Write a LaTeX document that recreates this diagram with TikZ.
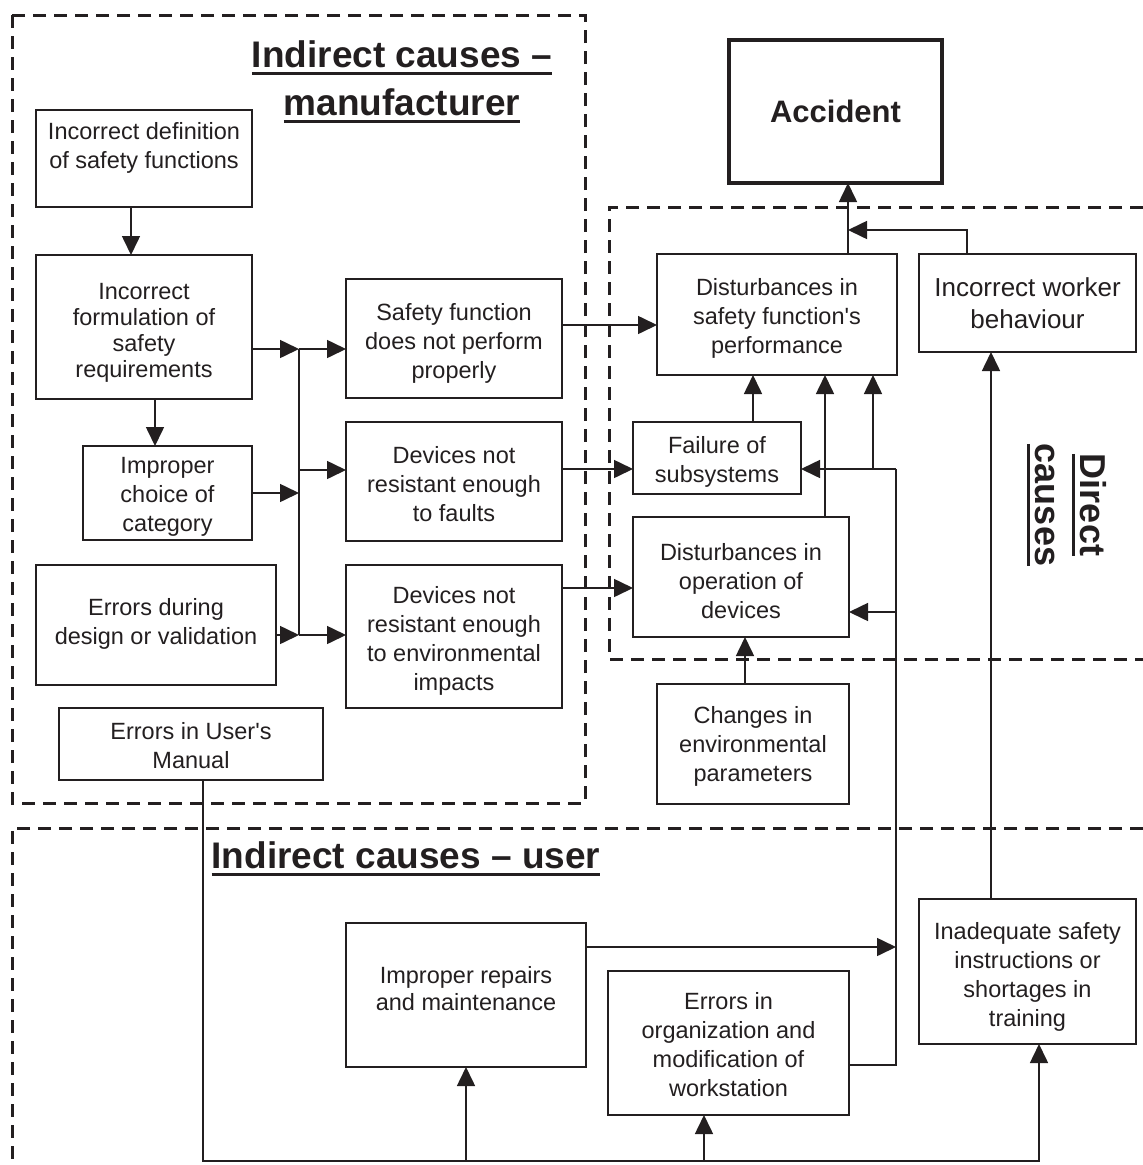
\documentclass[tikz,border=0pt]{standalone}
\usepackage{fontspec}
\setmainfont{Liberation Sans}
\usetikzlibrary{arrows.meta}
\definecolor{ink}{RGB}{35,31,32}
\newcommand{\thul}[1]{\setbox0\hbox{#1}\rlap{\rule[-8pt]{\wd0}{3pt}}\box0}
\newcommand{\bxst}{\rule[-6.5pt]{0pt}{29pt}}
\newcommand{\up}[1]{\rule{0pt}{#1}}
\newcommand{\dn}[1]{\rule[-#1]{0pt}{0pt}}
\tikzset{
  box/.style={draw=ink, line width=1.6pt, inner sep=0pt, outer sep=0pt, align=center,
    font=\fontsize{23.5}{29}\selectfont, text=ink},
  sbox/.style={box, execute at begin node=\bxst, execute at end node=\bxst},
  arr/.style={draw=ink, line width=1.6pt, -{Triangle[length=19pt,width=18pt]}},
  ln/.style={draw=ink, line width=1.6pt},
  dframe/.style={draw=ink, line width=3pt, dash pattern=on 13pt off 8pt},
  ttl/.style={font=\fontsize{37}{45}\selectfont\bfseries, text=ink, inner sep=0pt, outer sep=0pt}
}
\begin{document}
\begin{tikzpicture}[x=1pt,y=-1pt]
\useasboundingbox (0,0) rectangle (1143,1165);
\fill[white] (0,0) rectangle (1143,1165);

% dashed frames
\draw[dframe] (12,15) rectangle (585,803);
\draw[dframe] (1143,207) -- (609,207) -- (609,659) -- (1143,659);
\draw[dframe] (1143,828) -- (12,828) -- (12,1165);

% titles
\node[ttl, anchor=base] (t1) at (402,67) {\thul{Indirect causes –}};
\node[ttl, anchor=base] (t2) at (402,115) {\thul{manufacturer}};
\node[ttl, anchor=base] (t3) at (406,868) {\thul{Indirect causes – user}};
\node[ttl, rotate=-90, align=center, font=\fontsize{36}{45}\selectfont\bfseries] (t4) at (1067,505) {\thul{Direct}\\\thul{causes}};

% manufacturer boxes
\node[sbox, minimum width=216pt, minimum height=97pt] (A) at (144,158.5) {\up{25.5pt}Incorrect definition\\of safety functions\\\mbox{}};
\node[sbox, minimum width=216pt, minimum height=144pt, font=\fontsize{23.5}{26}\selectfont] (B) at (144,327) {\up{28.5pt}Incorrect\\formulation of\\safety\\requirements};
\node[sbox, minimum width=169pt, minimum height=94pt] (C) at (167.5,493) {\up{24.5pt}Improper\\choice of\\category};
\node[sbox, minimum width=240pt, minimum height=120pt] (D) at (156,625) {Errors during\\design or validation\dn{7.5pt}};
\node[sbox, minimum width=264pt, minimum height=72pt] (E) at (191,744) {\up{26.5pt}Errors in User\textquotesingle s\\Manual};
\node[sbox, minimum width=216pt, minimum height=119pt] (F) at (454,338.5) {\up{27.5pt}Safety function\\does not perform\\properly};
\node[sbox, minimum width=216pt, minimum height=119pt] (G) at (454,481.5) {\up{27.5pt}Devices not\\resistant enough\\to faults};
\node[sbox, minimum width=216pt, minimum height=143pt] (H) at (454,636.5) {\up{26.5pt}Devices not\\resistant enough\\to environmental\\impacts};

% direct boxes
\node[box, line width=4pt, minimum width=213pt, minimum height=143pt, font=\fontsize{31}{37}\selectfont\bfseries] (Acc) at (835.5,111.5) {Accident};
\node[sbox, minimum width=240pt, minimum height=121pt] (I) at (777,314.5) {\up{26.5pt}Disturbances in\\safety function\textquotesingle s\\performance};
\node[sbox, minimum width=217pt, minimum height=98pt, font=\fontsize{26}{32}\selectfont] (J) at (1027.5,303) {\up{24.5pt}Incorrect worker\\behaviour};
\node[sbox, minimum width=168pt, minimum height=72pt] (Fa) at (717,458) {\up{25.5pt}Failure of\\subsystems};
\node[sbox, minimum width=216pt, minimum height=120pt] (Op) at (741,577) {\up{30.5pt}Disturbances in\\operation of\\devices};
\node[sbox, minimum width=192pt, minimum height=120pt] (Ch) at (753,744) {\up{23.5pt}Changes in\\environmental\\parameters};

% user boxes
\node[sbox, minimum width=240pt, minimum height=144pt, font=\fontsize{23.5}{27}\selectfont] (K) at (466,995) {Improper repairs\\and maintenance\dn{13.5pt}};
\node[sbox, minimum width=241pt, minimum height=144pt] (L) at (728.5,1043) {\up{26.5pt}Errors in\\organization and\\modification of\\workstation};
\node[sbox, minimum width=217pt, minimum height=145pt] (M) at (1027.5,971.5) {\up{28.5pt}Inadequate safety\\instructions or\\shortages in\\training};

% manufacturer connectors
\draw[arr] (131,0 |- A.south) -- (131,0 |- B.north);
\draw[arr] (155,0 |- B.south) -- (155,0 |- C.north);
\coordinate (bus1) at (299,349);
\coordinate (bus2) at (299,470);
\coordinate (bus3) at (299,635);
\draw[ln] (bus1) -- (bus3);
\draw[arr] (B.east |- bus1) -- (bus1);
\draw[arr] (C.east) -- (C.east -| bus1);
\draw[arr] (D.east |- bus3) -- (bus3);
\draw[arr] (bus1) -- (F.west |- bus1);
\draw[arr] (bus2) -- (G.west |- bus2);
\draw[arr] (bus3) -- (H.west |- bus3);

% cross connectors
\draw[arr] (F.east |- 0,325) -- (I.west |- 0,325);
\draw[arr] (G.east |- 0,469) -- (Fa.west |- 0,469);
\draw[arr] (H.east |- 0,588) -- (Op.west |- 0,588);

% direct connectors
\draw[arr] (848,0 |- I.north) -- (848,0 |- Acc.south);
\coordinate (wk) at (967,230);
\draw[arr] (967,0 |- J.north) -- (wk) -- (848,230);
\draw[arr] (753,0 |- Fa.north) -- (753,0 |- I.south);
\draw[arr] (825,0 |- Op.north) -- (825,0 |- I.south);
\draw[arr] (745,0 |- Ch.north) -- (745,0 |- Op.south);
\coordinate (rb1) at (896,469);
\coordinate (rb2) at (896,612);
\coordinate (rb3) at (896,1065);
\coordinate (rbk) at (896,947);
\draw[ln] (L.east |- rb3) -- (rb3) -- (rb1);
\draw[arr] (rb1) -- (Fa.east |- rb1);
\draw[arr] (873,469) -- (873,0 |- I.south);
\draw[arr] (rb2) -- (Op.east |- rb2);
\draw[arr] (K.east |- rbk) -- (rbk);
\draw[arr] (991,0 |- M.north) -- (991,0 |- J.south);

% user manual bus
\coordinate (ub0) at (203,1161);
\coordinate (ub1) at (466,1161);
\coordinate (ub2) at (704,1161);
\coordinate (ub3) at (1039,1161);
\draw[arr] (203,0 |- E.south) -- (ub0) -- (ub3) -- (1039,0 |- M.south);
\draw[arr] (ub1) -- (466,0 |- K.south);
\draw[arr] (ub2) -- (704,0 |- L.south);
\end{tikzpicture}
\end{document}
